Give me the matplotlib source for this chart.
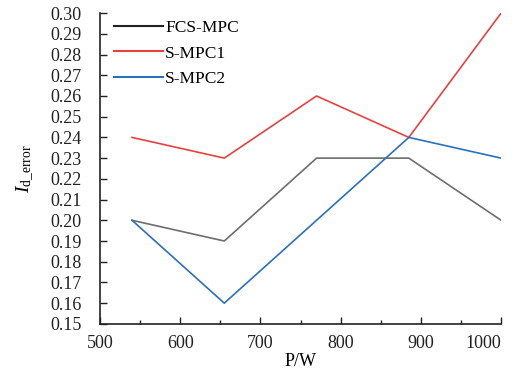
import matplotlib
matplotlib.use('Agg')
import matplotlib.pyplot as plt
from matplotlib.lines import Line2D
from matplotlib.ticker import MultipleLocator

plt.rcParams['font.family'] = ['Liberation Serif', 'DejaVu Serif']
plt.rcParams['mathtext.fontset'] = 'custom'
plt.rcParams['mathtext.rm'] = 'Liberation Serif'
plt.rcParams['mathtext.it'] = 'Liberation Serif:italic'

# data
power = [540, 655, 770, 885, 1000]
fcs_mpc = [0.20, 0.19, 0.23, 0.23, 0.20]
s_mpc1 = [0.24, 0.23, 0.26, 0.24, 0.30]
s_mpc2 = [0.20, 0.16, 0.20, 0.24, 0.23]
x_ticks = [500, 600, 700, 800, 900, 1000]

fig = plt.figure(figsize=(5.15, 3.74), dpi=100)
ax = fig.add_axes([0.194, 0.134, 0.779, 0.831])

ax.plot(power, fcs_mpc, color='#6e6e6e', lw=1.2)
ax.plot(power, s_mpc1, color='#e8413f', lw=1.2)
ax.plot(power, s_mpc2, color='#2b70bd', lw=1.2)

ax.set_xlim(500, 1000)
ax.set_ylim(0.15, 0.30)
ax.set_xticks(x_ticks)
ax.set_xticklabels([str(t) for t in x_ticks])
ax.xaxis.set_minor_locator(MultipleLocator(50))
ax.yaxis.set_major_locator(MultipleLocator(0.01))
ax.yaxis.set_major_formatter(plt.FormatStrFormatter('%.2f'))

for s in ['top', 'right']:
    ax.spines[s].set_visible(False)
for s in ['left', 'bottom']:
    ax.spines[s].set_linewidth(1.2)
    ax.spines[s].set_color('#222222')

ax.tick_params(axis='both', which='major', direction='in', length=5, width=1.0,
               labelsize=13, colors='#222222')
ax.tick_params(axis='x', which='minor', direction='in', length=3, width=1.0, colors='#222222')
ax.tick_params(axis='y', pad=13)
ax.tick_params(axis='x', pad=8)

# last label sits left of its tick so it stays inside the figure
for lab in ax.get_xticklabels():
    if lab.get_text() == '1000':
        lab.set_horizontalalignment('right')
        lab.set_x(1000)

ax.set_xlabel('P/W', fontsize=13, labelpad=1)
ax.set_ylabel(r'$I_{\rm d\_error}$', fontsize=14, labelpad=10)

handles = [Line2D([], [], color='#222222', lw=1.5),
           Line2D([], [], color='#e8413f', lw=1.5),
           Line2D([], [], color='#2b70bd', lw=1.5)]
ax.legend(handles, ['FCS-MPC', 'S-MPC1', 'S-MPC2'], loc='upper left',
          bbox_to_anchor=(0.005, 1.018), frameon=False, fontsize=12.5,
          handlelength=2.8, handletextpad=0.15, labelspacing=0.55,
          borderaxespad=0.3)

fig.savefig('out.png', dpi=100)
